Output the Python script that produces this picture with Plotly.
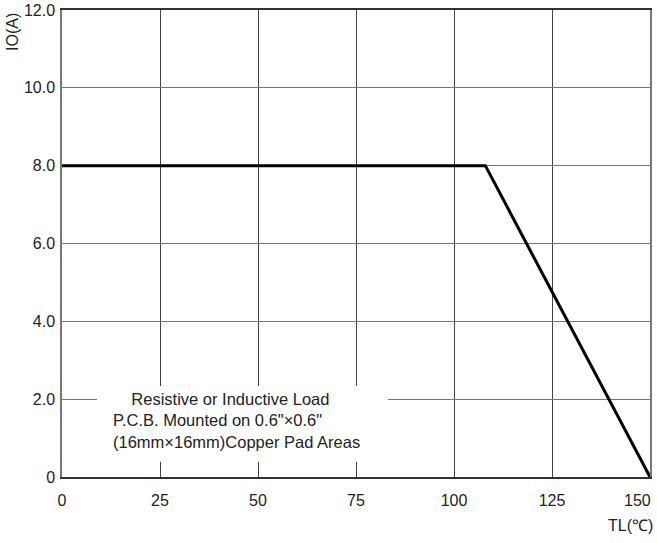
import plotly.graph_objects as go

# Data
temp_c = [0, 108, 150]
current_a = [8.0, 8.0, 0.0]
x_ticks = [0, 25, 50, 75, 100, 125, 150]
x_tick_labels = ["0", "25", "50", "75", "100", "125", "150"]
y_ticks = [0, 2, 4, 6, 8, 10, 12]
y_tick_labels = ["0", "2.0", "4.0", "6.0", "8.0", "10.0", "12.0"]
note_lines = ["\u00a0\u00a0\u00a0\u00a0Resistive or Inductive Load",
              "P.C.B. Mounted on 0.6\"\u00d70.6\"",
              "(16mm\u00d716mm)Copper Pad Areas"]

FONT = "Liberation Sans, Arial, sans-serif"
fig = go.Figure()
fig.add_trace(go.Scatter(x=temp_c, y=current_a, mode="lines",
                         line=dict(color="#000000", width=3),
                         showlegend=False, hoverinfo="skip"))

fig.add_shape(type="rect", x0=8.9, x1=83.2, y0=0.39, y1=2.34,
              fillcolor="white", line=dict(width=0), layer="between")

fig.add_annotation(x=44.6, y=1.44, xref="x", yref="y",
                   text="<br>".join(note_lines), showarrow=False,
                   align="left", xanchor="center", yanchor="middle",
                   font=dict(family=FONT, size=16.5, color="#222222"))

fig.add_annotation(x=0, y=1, xref="paper", yref="paper", text="IO(A)",
                   textangle=-90, showarrow=False, xanchor="center",
                   yanchor="middle", xshift=-50, yshift=-22,
                   font=dict(family=FONT, size=16, color="#222222"))
fig.add_annotation(x=1, y=0, xref="paper", yref="paper", text="TL(\u2103)",
                   showarrow=False, xanchor="center", yanchor="middle",
                   xshift=-20, yshift=-48,
                   font=dict(family=FONT, size=16, color="#222222"))

# last x tick label placed inside the figure edge (right-aligned at its tick)
fig.add_annotation(x=x_ticks[-1], y=0, xref="x", yref="y",
                   text=x_tick_labels[-1], showarrow=False,
                   xanchor="right", yanchor="middle", xshift=3, yshift=-23,
                   font=dict(family=FONT, size=16, color="#222222"))

fig.update_xaxes(range=[0, 150], tickvals=x_ticks[:-1], ticktext=x_tick_labels[:-1],
                 showgrid=True, gridcolor="#444444", gridwidth=1,
                 showline=True, linecolor="#333333", linewidth=1.5, mirror=True,
                 zeroline=False, ticks="", ticklabelstandoff=8,
                 tickfont=dict(family=FONT, size=16, color="#222222"))
fig.update_yaxes(range=[0, 12], tickvals=y_ticks, ticktext=y_tick_labels,
                 showgrid=True, gridcolor="#777777", gridwidth=1,
                 showline=True, linecolor="#777777", linewidth=1.5, mirror=True,
                 zeroline=False, ticks="", ticklabelstandoff=2,
                 ticklabeloverflow="allow",
                 tickfont=dict(family=FONT, size=16, color="#222222"))

fig.update_layout(width=657, height=543,
                  margin=dict(l=62, r=7, t=10, b=66, autoexpand=False),
                  paper_bgcolor="white", plot_bgcolor="white")

fig.write_html("out.html", config={"displayModeBar": False},
               post_script="document.body.style.margin='0';document.body.style.overflow='hidden';")
